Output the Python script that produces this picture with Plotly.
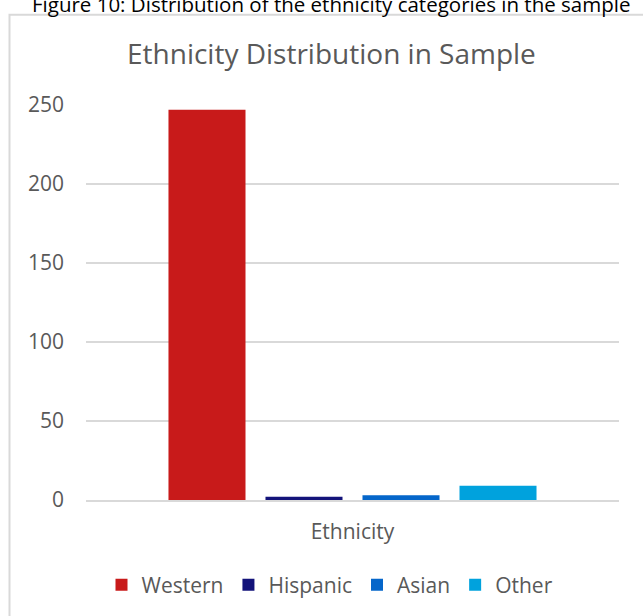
import plotly.graph_objects as go

categories = ["Ethnicity"]
series_names = ["Western", "Hispanic", "Asian", "Other"]
series_values = [247, 2, 3, 9]
series_colors = ["#C81A1A", "#13137A", "#0566CA", "#00A2DD"]
y_ticks = [0, 50, 100, 150, 200, 250]

FONT = "Open Sans"
GRAY = "#595959"

fig = go.Figure()
for name, val, col in zip(series_names, series_values, series_colors):
    fig.add_trace(go.Bar(name=name, x=categories, y=[val], marker=dict(color=col, line=dict(width=0))))

W, H = 643, 616
L, R, T, B = 86, 24, 105, 115
pw, ph = W - L - R, H - T - B

def px_x(x):
    return (x - L) / pw

def px_y(y):
    return 1 + (T - y) / ph

fig.update_layout(
    width=W, height=H,
    margin=dict(l=L, r=R, t=T, b=B),
    paper_bgcolor="white", plot_bgcolor="white",
    barmode="group", bargap=0.272, bargroupgap=0.206,
    font=dict(family=FONT, color=GRAY, size=21),
    showlegend=True,
    legend=dict(orientation="h", x=px_x(330), xanchor="center", y=px_y(585), yanchor="middle",
                font=dict(size=21, color=GRAY), traceorder="normal", itemclick=False),
    yaxis=dict(range=[0, 250], tickvals=y_ticks, showgrid=True, gridcolor="#D9D9D9", gridwidth=2,
               zeroline=False, showline=False, ticks="", ticklabelstandoff=21,
               tickfont=dict(size=21, color=GRAY)),
    xaxis=dict(showline=True, linecolor="#D9D9D9", linewidth=2, ticks="", ticklabelstandoff=12,
               tickfont=dict(size=21, color=GRAY)),
    annotations=[
        dict(text="Ethnicity Distribution in Sample", xref="paper", yref="paper",
             x=px_x(331), y=px_y(53), xanchor="center", yanchor="middle", showarrow=False,
             font=dict(size=28, color=GRAY, family=FONT)),
        dict(text="Figure 10: Distribution of the ethnicity categories in the sample", xref="paper", yref="paper",
             x=px_x(331), y=px_y(4), xanchor="center", yanchor="middle", showarrow=False,
             font=dict(size=20.5, color="#000000", family=FONT)),
    ],
    shapes=[
        dict(type="rect", xref="paper", yref="paper", x0=px_x(9.5), y0=px_y(700), x1=px_x(700), y1=px_y(14.5),
             line=dict(color="#D9D9D9", width=2), fillcolor="rgba(0,0,0,0)", layer="below"),
    ],
)

fig.write_html("out.html")
